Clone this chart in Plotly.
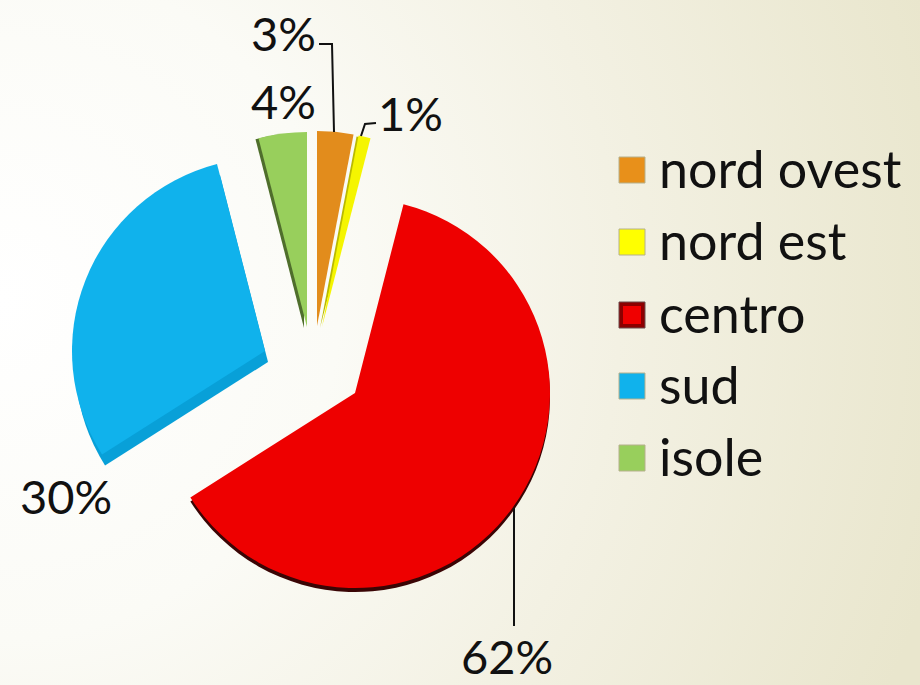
import plotly.graph_objects as go

W, H = 920, 685

labels = ["nord ovest", "nord est", "centro", "sud", "isole"]
values = [3, 1, 62, 30, 4]
colors = ["#e28c1c", "#f5f500", "#ee0000", "#10b2ec", "#98cf5c"]
depth_colors = [None, "#b9b900", "#3a0505", "#08a0d8", "#4f6e2c"]
swatch_colors = ["#e8901a", "#ffff00", "#8c0000", "#10b2ec", "#98cf5c"]
swatch_borders = ["#b5b08c", "#b5b08c", "#6b4a4a", "#b5b08c", "#b5b08c"]

# pixel position of each exploded slice's apex, and common radius
apex = [(317, 326), (322, 327), (355, 393), (265, 351), (307, 327)]
depth = [(0, 0), (-2, 1), (0, 4), (3, 11), (-3, 1)]
radius = [195, 195, 195, 193, 195]

TRANSPARENT = "rgba(0,0,0,0)"


def slice_trace(i, cx, cy, r, color):
    cols = [TRANSPARENT] * len(values)
    cols[i] = color
    return go.Pie(
        values=values, labels=labels, sort=False, direction="clockwise",
        rotation=0, textinfo="none", hoverinfo="label+percent",
        marker=dict(colors=cols, line=dict(width=0)), showlegend=False,
        domain=dict(x=[(cx - r) / W, (cx + r) / W],
                    y=[1 - (cy + r) / H, 1 - (cy - r) / H]),
    )


fig = go.Figure()
for i in range(len(values)):
    if depth_colors[i]:
        fig.add_trace(slice_trace(i, apex[i][0] + depth[i][0], apex[i][1] + depth[i][1],
                                  radius[i], depth_colors[i]))
for i in range(len(values)):
    fig.add_trace(slice_trace(i, apex[i][0], apex[i][1], radius[i], colors[i]))

FONT = "Lato"
shapes, annotations = [], []


def px(x):
    return x / W


def py(y):
    return 1 - y / H


def label(x, y, text, size, anchor="left"):
    annotations.append(dict(x=px(x), y=py(y), xref="paper", yref="paper", text=text,
                            showarrow=False, xanchor=anchor, yanchor="middle",
                            font=dict(family=FONT, size=size, color="#111111")))


# percent labels
label_pos = [(283, 33), (410, 113), (507, 656), (66, 496), (283, 101)]
for v, (x, y) in zip(values, label_pos):
    label(x, y, f"{v}%", 47, "center")

# leader lines
leaders = [
    [(319, 44), (332, 44), (334, 132)],
    [(376, 123), (365, 124), (361, 136)],
    [(514, 508), (514, 626)],
]
for pts in leaders:
    path = "M " + " L ".join(f"{px(x)},{py(y)}" for x, y in pts)
    shapes.append(dict(type="path", xref="paper", yref="paper", path=path,
                       line=dict(color="#111111", width=2)))

# legend
legend_y = [170, 242, 315, 386, 458]
for name, col, edge, y in zip(labels, swatch_colors, swatch_borders, legend_y):
    shapes.append(dict(type="rect", xref="paper", yref="paper",
                       x0=px(619), x1=px(645), y0=py(y + 13), y1=py(y - 13),
                       fillcolor=col, line=dict(color=edge, width=1)))
    if name == "centro":
        shapes.append(dict(type="rect", xref="paper", yref="paper",
                           x0=px(623), x1=px(641), y0=py(y + 9), y1=py(y - 9),
                           fillcolor="#f00000", line=dict(width=0)))
    label(657, y - 2, name, 52)

gradient = (
    "data:image/svg+xml;utf8,"
    "<svg xmlns='http://www.w3.org/2000/svg' width='920' height='685'>"
    "<defs><radialGradient id='g' gradientUnits='userSpaceOnUse' cx='0' cy='300' r='970'>"
    "<stop offset='0' stop-color='%23ffffff'/><stop offset='0.35' stop-color='%23fbfbf6'/>"
    "<stop offset='0.64' stop-color='%23f3f1e3'/><stop offset='1' stop-color='%23e9e6cd'/>"
    "</radialGradient></defs>"
    "<rect width='920' height='685' fill='url(%23g)'/></svg>"
)

fig.update_layout(
    width=W, height=H, margin=dict(l=0, r=0, t=0, b=0),
    paper_bgcolor="#fbfbf5", plot_bgcolor="rgba(0,0,0,0)",
    shapes=shapes, annotations=annotations,
    images=[dict(source=gradient, xref="paper", yref="paper", x=0, y=1,
                 sizex=1, sizey=1, xanchor="left", yanchor="top",
                 sizing="stretch", layer="below")],
)

fig.write_html("out.html", config={"displayModeBar": False},
               post_script="document.body.style.margin='0';document.body.style.overflow='hidden';")
